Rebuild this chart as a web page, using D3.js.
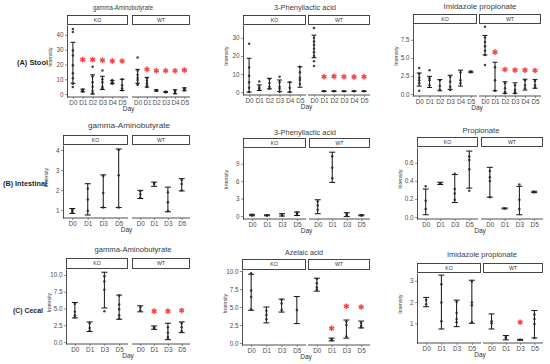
<!DOCTYPE html>
<html>
<head>
<meta charset="utf-8">
<script src="https://cdn.jsdelivr.net/npm/d3@7"></script>
<style>
  body { margin: 0; background: #fff; }
  svg { display: block; font-family: 'Liberation Sans', Arial, sans-serif; }
</style>
</head>
<body>
<script>
// categories
var days6 = ['D0', 'D1', 'D2', 'D3', 'D4', 'D5']
var days4 = ['D0', 'D1', 'D3', 'D5']
var groups = ['KO', 'WT']
var rowLabels = ['(A) Stool', '(B) Intestinal', '(C) Cecal']

// tick labels
var ticksA1 = [0, 10, 20, 30, 40]
var ticksA2 = [0, 10, 20, 30]
var ticksA3 = [0, 2.5, 5, 7.5]
var ticksB1 = [1, 2, 3, 4]
var ticksB2 = [0, 3, 6, 9]
var ticksB3 = [0, 0.2, 0.4, 0.6]
var ticksC12 = [0, 2.5, 5, 7.5, 10]
var ticksC3 = [1, 2, 3]

// (A) stool - gamma-Aminobutyrate
var a1KoBars = [[7.3, 35], [1.5, 3.3], [0, 13], [3, 12], [7, 9], [2.4, 10]]
var a1KoPts = [[44, 42, 29.5, 26, 19.5, 14, 10.7, 7, 4.7], [1.8, 2.2, 2.6, 3], [18.4, 12, 8, 5, 2, 0.5], [16, 10, 8, 5, 4], [9.5, 8, 7.5, 7], [10, 6, 4, 2.5]]
var a1KoStars = [null, 23.3, 23.3, 22.9, 22.4, 22.4]
var a1WtBars = [[7.3, 16.7], [4.7, 11.3], [2, 2.9], [1, 1.8], [0.2, 2.9], [2.2, 4.2]]
var a1WtPts = [[24.7, 16, 13, 11, 9.5, 7, 6.2], [10.7, 9, 7.3, 6, 4.7], [2.2, 2.5, 2.7], [1.2, 1.4, 1.6], [0.5, 1.5, 2.5], [2.5, 3.3, 4]]
var a1WtStars = [null, 16.7, 15.8, 15.8, 15.8, 16.2]

// (A) stool - 3-Phenyllactic acid
var a2KoBars = [[0, 18.7], [0.9, 4], [1.8, 7.6], [0.4, 6.7], [0, 5.5], [2.7, 14]]
var a2KoPts = [[26.7, 13.6, 9, 5.5, 2.4, 0], [5.8, 3, 2, 1.3], [7.3, 5, 3, 1.8], [8.5, 5.5, 3, 1.8, 0], [5.5, 2.4, 0], [14, 11, 8, 6.7, 4.5]]
var a2KoStars = [null, null, null, null, null, null]
var a2WtBars = [[19, 31.5], [0.3, 0.7], [0.3, 0.7], [0.3, 0.7], [0.3, 0.7], [0.3, 0.7]]
var a2WtPts = [[35.5, 30, 28, 26, 24, 22, 20, 17, 14.5], [0.5], [0.5], [0.5], [0.5], [0.5]]
var a2WtStars = [null, 8.5, 8.7, 8.5, 8.4, 8.5]

// (A) stool - Imidazole propionate
var a3KoBars = [[1.1, 2.9], [0.9, 2.45], [0.45, 2.0], [0.65, 2.6], [1.1, 3.3], [2.95, 3.15]]
var a3KoPts = [[3.6, 2.8, 2.3, 1.9, 1.5, 0.45], [3.3, 2.2, 1.9, 1.2], [1.9, 1.1, 0.6], [2.4, 1.7, 1.0, 0.55], [3.0, 1.9, 1.5], [3.05, 3.1]]
var a3KoStars = [null, null, null, null, null, null]
var a3WtBars = [[5.4, 8.1], [0.45, 4.4], [0.1, 1.7], [0.1, 1.55], [0.55, 2.05], [0.8, 2.0]]
var a3WtPts = [[9.3, 7.8, 7.2, 6.6, 6, 5.4, 4.0], [3.7, 1.9, 0.45], [1.5, 0.8, 0.3, 0.1], [1.2, 0.6, 0.3, 0.1], [1.9, 1.2, 0.8], [1.8, 1.2, 0.9]]
var a3WtStars = [null, 5.8, 3.4, 3.3, 3.3, 3.25]

// (B) intestinal - gamma-Aminobutyrate
var b1KoBars = [[0.84, 1.08], [0.76, 2.32], [1.13, 2.76], [1.13, 4.05]]
var b1KoPts = [[0.9, 1.0, 1.05], [2.07, 1.53, 0.97], [2.7, 1.86, 1.13], [4.0, 2.74, 1.13]]
var b1WtBars = [[1.58, 1.99], [2.19, 2.4], [0.92, 2.15], [1.96, 2.57]]
var b1WtPts = [[1.95, 1.8, 1.63], [2.3, 2.35], [1.9, 1.4, 0.96], [2.5, 2.3, 1.99]]

// (B) intestinal - 3-Phenyllactic acid
var b2KoBars = [[0.05, 0.3], [0.05, 0.2], [0.0, 0.4], [0.1, 0.7]]
var b2KoPts = [[0.1, 0.2], [0.1, 0.15], [0.1, 0.3], [0.2, 0.5, 0.6]]
var b2WtBars = [[0.4, 2.8], [5.8, 11.0], [-0.1, 0.57], [0.05, 0.2]]
var b2WtPts = [[2.5, 1.8, 1.1], [10.3, 8.3, 6.5], [0.5, 0.2, 0.05], [0.1, 0.15]]

// (B) intestinal - Propionate
var b3KoBars = [[0.025, 0.31], [0.36, 0.385], [0.16, 0.47], [0.32, 0.73]]
var b3KoPts = [[0.34, 0.18, 0.09], [0.37, 0.375], [0.48, 0.31, 0.26, 0.19], [0.67, 0.63, 0.53, 0.29]]
var b3WtBars = [[0.22, 0.55], [0.09, 0.1], [0.025, 0.34], [0.27, 0.285]]
var b3WtPts = [[0.51, 0.44, 0.4, 0.22], [0.095], [0.36, 0.19, 0.09], [0.275, 0.28]]

// (C) cecal - gamma-Aminobutyrate
var c1KoBars = [[3.6, 5.9], [1.56, 3.0], [5.07, 10.4], [3.4, 7.0]]
var c1KoPts = [[5.7, 4.5, 4.0, 3.7], [2.8, 2.1, 1.7], [9.8, 9.0, 7.8, 4.6], [6.9, 5.6, 4.9, 4.0, 3.5]]
var c1WtBars = [[4.5, 5.4], [1.9, 2.4], [0.35, 2.8], [1.4, 3.0]]
var c1WtPts = [[5.2, 4.7], [2.0, 2.2], [2.2, 1.4, 0.8, 0.5], [2.8, 2.2, 1.6]]
var c1WtStars = [null, 4.6, 4.6, 4.7]

// (C) cecal - Azelaic acid
var c2KoBars = [[4.55, 9.55], [2.8, 5.0], [4.3, 6.1], [2.7, 6.45]]
var c2KoPts = [[9.7, 7.3, 6.4, 4.7], [4.5, 3.9, 3.3], [6.0, 5.5, 4.6], [4.6]]
var c2WtBars = [[7.2, 9.0], [0.3, 0.68], [0.68, 3.2], [2.1, 3.05]]
var c2WtPts = [[8.9, 8.3, 7.7, 7.4], [0.4, 0.55], [2.95, 2.5, 0.9], [2.8, 2.4, 2.2]]
var c2WtStars = [null, 2.05, 5.1, 5.0]

// (C) cecal - Imidazole propionate
var c3KoBars = [[1.78, 2.22], [0.73, 3.27], [0.84, 2.09], [1.0, 3.03]]
var c3KoPts = [[2.1, 1.9], [2.84, 1.98, 1.1], [2.0, 1.5, 1.2, 1.05], [2.97, 1.98, 1.85, 1.05]]
var c3WtBars = [[0.73, 1.44], [0.22, 0.42], [0.2, 0.24], [0.31, 1.6]]
var c3WtPts = [[1.1, 1.0], [0.3, 0.35], [0.22], [1.41, 1.2, 0.97, 0.3]]
var c3WtStars = [null, null, 1.05, null]

var none4 = [null, null, null, null]

// panel layout: facet pixel spans, strip box, axis line, y domain
var panels = [
  { title: 'gamma-Aminobutyrate', days: days6, ticks: ticksA1, fmt: d3.format('d'), yDomain: [-2, 46.7],
    ko: [67, 128], wt: [132, 190], strip: [15, 24], bottom: 97, tx: 123, ty: 9.5, tw: 60, tf: 6.3,
    koBars: a1KoBars, koPts: a1KoPts, koStars: a1KoStars, wtBars: a1WtBars, wtPts: a1WtPts, wtStars: a1WtStars },
  { title: '3-Phenyllactic acid', days: days6, ticks: ticksA2, fmt: d3.format('d'), yDomain: [-1.6, 37.1],
    ko: [243, 306], wt: [308, 370], strip: [15, 24], bottom: 95, tx: 305, ty: 9.5, tw: 62, tf: 7.4,
    koBars: a2KoBars, koPts: a2KoPts, koStars: a2KoStars, wtBars: a2WtBars, wtPts: a2WtPts, wtStars: a2WtStars },
  { title: 'Imidazole propionate', days: days6, ticks: ticksA3, fmt: d3.format('.1f'), yDomain: [-0.27, 9.68],
    ko: [413, 477], wt: [479, 541], strip: [14, 23], bottom: 96, tx: 480, ty: 9, tw: 73, tf: 7.6,
    koBars: a3KoBars, koPts: a3KoPts, koStars: a3KoStars, wtBars: a3WtBars, wtPts: a3WtPts, wtStars: a3WtStars },
  { title: 'gamma-Aminobutyrate', days: days4, ticks: ticksB1, fmt: d3.format('d'), yDomain: [0.61, 4.25],
    ko: [63, 128], wt: [132, 190], strip: [135, 144], bottom: 218, tx: 129, ty: 128, tw: 82, tf: 7.8,
    koBars: b1KoBars, koPts: b1KoPts, koStars: none4, wtBars: b1WtBars, wtPts: b1WtPts, wtStars: none4 },
  { title: '3-Phenyllactic acid', days: days4, ticks: ticksB2, fmt: d3.format('d'), yDomain: [-0.51, 11.72],
    ko: [243, 306], wt: [309, 370], strip: [138, 147], bottom: 219, tx: 305, ty: 134.5, tw: 62, tf: 7.4,
    koBars: b2KoBars, koPts: b2KoPts, koStars: none4, wtBars: b2WtBars, wtPts: b2WtPts, wtStars: none4 },
  { title: 'Propionate', days: days4, ticks: ticksB3, fmt: d3.format('.1f'), yDomain: [-0.022, 0.775],
    ko: [417, 478], wt: [481, 543], strip: [137, 146], bottom: 219, tx: 481, ty: 133, tw: 37, tf: 7.6,
    koBars: b3KoBars, koPts: b3KoPts, koStars: none4, wtBars: b3WtBars, wtPts: b3WtPts, wtStars: none4 },
  { title: 'gamma-Aminobutyrate', days: days4, ticks: ticksC12, fmt: d3.format('.1f'), yDomain: [-0.29, 10.88],
    ko: [66, 128], wt: [132, 190], strip: [258, 268], bottom: 344, tx: 133, ty: 252, tw: 77, tf: 7.6,
    koBars: c1KoBars, koPts: c1KoPts, koStars: none4, wtBars: c1WtBars, wtPts: c1WtPts, wtStars: c1WtStars },
  { title: 'Azelaic acid', days: days4, ticks: ticksC12, fmt: d3.format('.1f'), yDomain: [-0.27, 10.14],
    ko: [242, 306], wt: [308, 370], strip: [259, 269], bottom: 345, tx: 304, ty: 255, tw: 38, tf: 7.6,
    koBars: c2KoBars, koPts: c2KoPts, koStars: none4, wtBars: c2WtBars, wtPts: c2WtPts, wtStars: c2WtStars },
  { title: 'Imidazole propionate', days: days4, ticks: ticksC3, fmt: d3.format('d'), yDomain: [0.07, 3.37],
    ko: [417, 481], wt: [483, 543], strip: [263, 272], bottom: 343, tx: 482, ty: 257, tw: 70, tf: 7.4,
    koBars: c3KoBars, koPts: c3KoPts, koStars: none4, wtBars: c3WtBars, wtPts: c3WtPts, wtStars: c3WtStars }
]

var svg = d3.select('body').append('svg')
  .attr('width', 550)
  .attr('height', 364)

var starColor = '#ff4040'

function drawStar(g, cx, cy) {
  var r = 2.8
  for (var k = 0; k < 3; k++) {
    var a = Math.PI / 2 + k * Math.PI / 3
    g.append('line')
      .attr('x1', cx - r * Math.cos(a)).attr('y1', cy - r * Math.sin(a))
      .attr('x2', cx + r * Math.cos(a)).attr('y2', cy + r * Math.sin(a))
      .attr('stroke', starColor).attr('stroke-width', 1.5)
  }
}

function drawPanel(p) {
  var g = svg.append('g')
  var top = p.strip[1] + 1

  var y = d3.scaleLinear().domain(p.yDomain).range([p.bottom, top])

  // title
  g.append('text')
    .attr('x', p.tx).attr('y', p.ty)
    .attr('text-anchor', 'middle')
    .attr('font-size', p.tf)
    .attr('fill', '#3a3a44')
    .attr('textLength', p.tw)
    .attr('lengthAdjust', 'spacingAndGlyphs')
    .text(p.title)

  groups.forEach(function(grp) {
    var span = grp == 'KO' ? p.ko : p.wt
    var bars = grp == 'KO' ? p.koBars : p.wtBars
    var pts = grp == 'KO' ? p.koPts : p.wtPts
    var stars = grp == 'KO' ? p.koStars : p.wtStars

    var x = d3.scalePoint().domain(p.days).range(span).padding(0.6)
    var capW = Math.min(x.step() * 0.24, 3)

    // strip
    g.append('rect')
      .attr('x', span[0] + 0.5).attr('y', p.strip[0] + 0.5)
      .attr('width', span[1] - span[0] - 1).attr('height', p.strip[1] - p.strip[0])
      .attr('fill', '#fff').attr('stroke', '#333').attr('stroke-width', 0.9)
    g.append('text')
      .attr('x', (span[0] + span[1]) / 2).attr('y', (p.strip[0] + p.strip[1]) / 2 + 2.2)
      .attr('text-anchor', 'middle')
      .attr('font-size', 5.2).attr('fill', '#333')
      .text(grp)

    // x axis
    var xAxis = g.append('g')
      .attr('transform', 'translate(0,' + p.bottom + ')')
      .call(d3.axisBottom(x).tickSize(2).tickSizeOuter(0))
    xAxis.select('.domain').attr('stroke', '#222').attr('stroke-width', 0.8)
      .attr('d', 'M' + span[0] + ',0H' + span[1])
    xAxis.selectAll('.tick line').attr('stroke', '#444').attr('stroke-width', 0.6)
    xAxis.selectAll('.tick text').attr('font-size', 6.3).attr('fill', '#4d4d4d')
      .attr('font-family', "'Liberation Sans', Arial, sans-serif").attr('dy', '0.75em').attr('y', 3)

    // error bars
    p.days.forEach(function(day, i) {
      var cx = x(day)
      var lo = bars[i][0], hi = bars[i][1]
      g.append('line')
        .attr('x1', cx).attr('x2', cx)
        .attr('y1', y(lo)).attr('y2', y(hi))
        .attr('stroke', '#111').attr('stroke-width', 1)
      ;[lo, hi].forEach(function(v) {
        g.append('line')
          .attr('x1', cx - capW).attr('x2', cx + capW)
          .attr('y1', y(v)).attr('y2', y(v))
          .attr('stroke', '#111').attr('stroke-width', 1)
      })

      pts[i].forEach(function(v) {
        g.append('circle')
          .attr('cx', cx).attr('cy', y(v)).attr('r', 1.25)
          .attr('fill', '#222').attr('fill-opacity', 0.85)
      })

      if (stars[i] != null) drawStar(g, cx, y(stars[i]))
    })
  })

  // y axis on the KO facet only
  var yAxis = g.append('g')
    .attr('transform', 'translate(' + p.ko[0] + ',0)')
    .call(d3.axisLeft(y).tickValues(p.ticks).tickFormat(p.fmt).tickSize(2).tickSizeOuter(0))
  yAxis.select('.domain').attr('stroke', '#222').attr('stroke-width', 0.8)
  yAxis.selectAll('.tick line').attr('stroke', '#444').attr('stroke-width', 0.6)
  yAxis.selectAll('.tick text').attr('font-size', 6.3).attr('fill', '#4d4d4d')
    .attr('font-family', "'Liberation Sans', Arial, sans-serif").attr('x', -3.5)

  // axis titles
  g.append('text')
    .attr('transform', 'translate(' + (p.ko[0] - 15) + ',' + ((top + p.bottom) / 2 - 4) + ') rotate(-90)')
    .attr('text-anchor', 'middle')
    .attr('font-size', 5.2).attr('fill', '#333')
    .text('Intensity')
  g.append('text')
    .attr('x', (p.ko[0] + p.wt[1]) / 2).attr('y', p.bottom + 14)
    .attr('text-anchor', 'middle')
    .attr('font-size', 6.5).attr('fill', '#333')
    .text('Day')
}

panels.forEach(drawPanel)

// row labels
var rowPos = [[17, 65, 31], [3, 186, 44], [13, 313, 30]]
rowLabels.forEach(function(label, i) {
  svg.append('text')
    .attr('x', rowPos[i][0]).attr('y', rowPos[i][1])
    .attr('font-size', 7.6).attr('font-weight', 'bold')
    .attr('fill', '#1e1e2a')
    .attr('textLength', rowPos[i][2])
    .attr('lengthAdjust', 'spacingAndGlyphs')
    .text(label)
})
</script>
</body>
</html>
